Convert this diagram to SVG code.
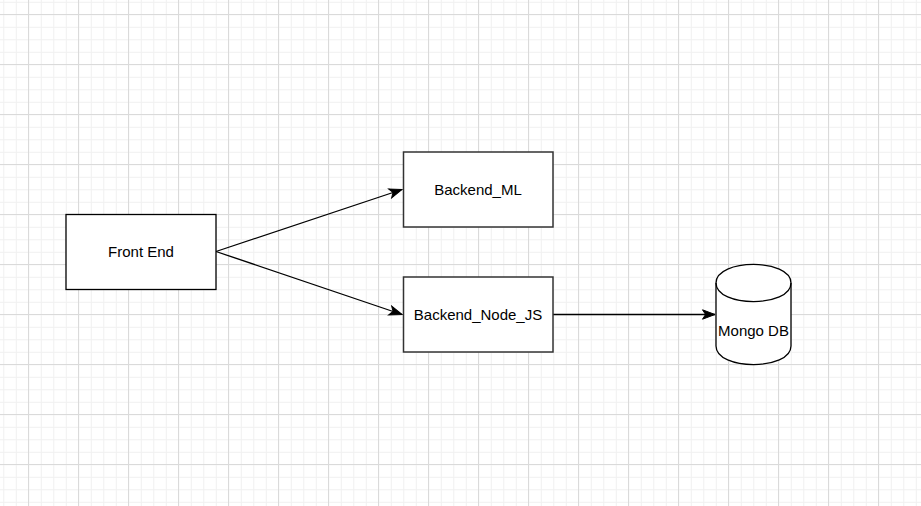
<svg xmlns="http://www.w3.org/2000/svg" width="921" height="506" viewBox="0 0 921 506">
  <defs>
    <pattern id="minor" patternUnits="userSpaceOnUse" x="3.3" y="1.8" width="12.5" height="12.5">
      <path d="M0.5,0 V12.5 M0,0.5 H12.5" fill="none" stroke="#f0f0f0" stroke-width="1"/>
    </pattern>
    <pattern id="major" patternUnits="userSpaceOnUse" x="28" y="14" width="50" height="50">
      <path d="M0.5,0 V50 M0,0.5 H50" fill="none" stroke="#dadada" stroke-width="1"/>
    </pattern>
    <marker id="arrow" markerUnits="userSpaceOnUse" viewBox="-14 -7 15 14" markerWidth="15" markerHeight="14" refX="0" refY="0" orient="auto">
      <path d="M0,0 L-12.5,-4.7 L-9.4,0 L-12.5,4.7 Z" fill="#000" stroke="#000" stroke-width="1"/>
    </marker>
    <style>
      .lbl { font-family: "Liberation Sans", Arial, Helvetica, sans-serif; font-size: 15px; fill: #000; text-anchor: middle; }
      .edge { fill: none; stroke: #000; stroke-width: 1.3; marker-end: url(#arrow); }
    </style>
  </defs>
  <rect width="921" height="506" fill="#ffffff"/>
  <rect width="921" height="506" fill="url(#minor)"/>
  <rect width="921" height="506" fill="url(#major)"/>

  <g id="connectors">
    <path class="edge" d="M216,251.5 L402,189.5"/>
    <path class="edge" d="M216,251.5 L402,314.5"/>
    <path class="edge" d="M553,314.5 L715,314.5"/>
  </g>

  <g id="front-end">
    <rect x="66" y="214.5" width="150" height="75" fill="#fff" stroke="#000" stroke-width="1.3"/>
    <text class="lbl" x="141" y="256.5">Front End</text>
  </g>

  <g id="backend-ml">
    <rect x="403.5" y="152" width="149.5" height="75" fill="#fff" stroke="#333" stroke-width="1.5"/>
    <text class="lbl" x="478" y="194.5">Backend_ML</text>
  </g>

  <g id="backend-node-js">
    <rect x="403.5" y="277" width="149.5" height="75" fill="#fff" stroke="#333" stroke-width="1.5"/>
    <text class="lbl" x="478" y="319.5">Backend_Node_JS</text>
  </g>

  <g id="mongo-db">
    <path d="M716,283 C716,258.3 791,258.3 791,283 L791,346 C791,370.7 716,370.7 716,346 Z" fill="#fff" stroke="#000" stroke-width="1.3"/>
    <path d="M716,283 C716,307.7 791,307.7 791,283" fill="none" stroke="#000" stroke-width="1.3"/>
    <text class="lbl" x="753.5" y="336">Mongo DB</text>
  </g>
</svg>
